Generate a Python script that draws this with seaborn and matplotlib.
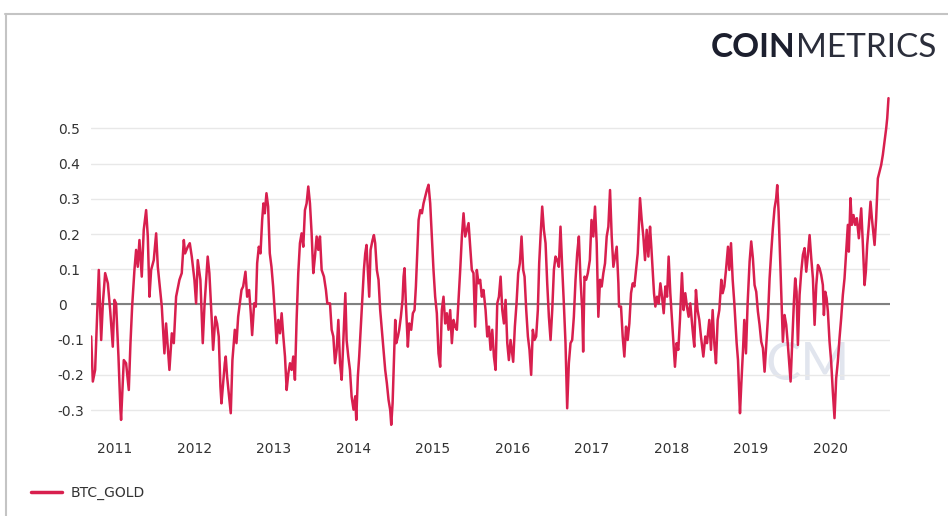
import pandas as pd
import matplotlib
matplotlib.use("Agg")
import matplotlib.pyplot as plt
import seaborn as sns
from matplotlib.lines import Line2D

# sample times (decimal years) and BTC / gold correlation
year_frac = [
    2010.702, 2010.723, 2010.752, 2010.798, 2010.828, 2010.849, 2010.878, 2010.912, 2010.941, 2010.974,
    2010.995, 2011.016, 2011.046, 2011.071, 2011.079, 2011.113, 2011.142, 2011.176, 2011.197, 2011.218,
    2011.247, 2011.268, 2011.289, 2011.310, 2011.339, 2011.364, 2011.394, 2011.415, 2011.436, 2011.457,
    2011.490, 2011.520, 2011.541, 2011.574, 2011.591, 2011.624, 2011.645, 2011.687, 2011.717, 2011.742,
    2011.771, 2011.813, 2011.842, 2011.868, 2011.884, 2011.918, 2011.943, 2011.968, 2012.002, 2012.023,
    2012.044, 2012.077, 2012.107, 2012.128, 2012.169, 2012.190, 2012.220, 2012.237, 2012.266, 2012.287,
    2012.308, 2012.329,
    2012.342, 2012.363, 2012.384, 2012.396, 2012.413, 2012.438, 2012.459, 2012.480, 2012.510, 2012.531,
    2012.552, 2012.573, 2012.594, 2012.615, 2012.644, 2012.665, 2012.690, 2012.711, 2012.728, 2012.753,
    2012.774, 2012.791, 2012.812, 2012.833, 2012.854, 2012.870, 2012.887, 2012.908, 2012.929, 2012.950,
    2012.971, 2012.992, 2013.017, 2013.034, 2013.055, 2013.076, 2013.097, 2013.118, 2013.139, 2013.160,
    2013.181, 2013.202, 2013.223, 2013.243, 2013.264, 2013.285, 2013.306, 2013.327, 2013.348, 2013.369,
    2013.390, 2013.411, 2013.432, 2013.453, 2013.474, 2013.495, 2013.516, 2013.537, 2013.558, 2013.579,
    2013.600, 2013.629, 2013.654, 2013.671, 2013.705, 2013.726, 2013.747, 2013.768, 2013.789, 2013.810,
    2013.831, 2013.852, 2013.872, 2013.898, 2013.914, 2013.935, 2013.956, 2013.977,
    2014.002, 2014.023, 2014.036, 2014.056, 2014.073, 2014.098, 2014.115, 2014.132, 2014.149, 2014.165,
    2014.182, 2014.199, 2014.216, 2014.241, 2014.258, 2014.274, 2014.295, 2014.316, 2014.337, 2014.358,
    2014.379, 2014.400, 2014.421, 2014.442, 2014.463, 2014.476, 2014.493, 2014.509, 2014.526, 2014.539,
    2014.560, 2014.576, 2014.597, 2014.618, 2014.631, 2014.643, 2014.660, 2014.685, 2014.702, 2014.727,
    2014.748, 2014.769, 2014.786, 2014.803, 2014.820, 2014.841, 2014.862, 2014.882, 2014.903, 2014.924,
    2014.945, 2014.966, 2014.987, 2015.008, 2015.029, 2015.050, 2015.071, 2015.092, 2015.113, 2015.134,
    2015.155, 2015.176, 2015.197, 2015.218, 2015.239, 2015.260, 2015.281, 2015.302, 2015.323, 2015.344,
    2015.365, 2015.386, 2015.407, 2015.428, 2015.449, 2015.470, 2015.490, 2015.511, 2015.532, 2015.553,
    2015.574, 2015.595, 2015.616, 2015.637,
    2015.663, 2015.684, 2015.705, 2015.726, 2015.747, 2015.768, 2015.789, 2015.810, 2015.831, 2015.852,
    2015.873, 2015.894, 2015.915, 2015.936, 2015.956, 2015.977, 2016.011, 2016.032, 2016.053, 2016.074,
    2016.095, 2016.116, 2016.137, 2016.154, 2016.175, 2016.196, 2016.216, 2016.237, 2016.258, 2016.279,
    2016.300, 2016.321, 2016.338, 2016.355, 2016.376, 2016.397, 2016.418, 2016.439, 2016.460, 2016.481,
    2016.502, 2016.523, 2016.543, 2016.564, 2016.585, 2016.606, 2016.627, 2016.648, 2016.669, 2016.690,
    2016.711, 2016.732, 2016.753, 2016.774, 2016.795, 2016.816, 2016.837, 2016.858, 2016.879, 2016.891,
    2016.908, 2016.929, 2016.950, 2016.975, 2016.996, 2017.017, 2017.038, 2017.059, 2017.080, 2017.101,
    2017.122, 2017.143, 2017.164, 2017.185, 2017.206, 2017.227, 2017.248, 2017.269, 2017.290, 2017.311,
    2017.332, 2017.340,
    2017.365, 2017.386, 2017.407, 2017.428, 2017.449, 2017.470, 2017.491, 2017.512, 2017.533, 2017.554,
    2017.575, 2017.604, 2017.625, 2017.646, 2017.667, 2017.688, 2017.709, 2017.730, 2017.746, 2017.763,
    2017.780, 2017.797, 2017.818, 2017.839, 2017.860, 2017.881, 2017.902, 2017.923, 2017.944, 2017.964,
    2017.985, 2018.015, 2018.044, 2018.065, 2018.086, 2018.107, 2018.132, 2018.153, 2018.174, 2018.195,
    2018.216, 2018.237, 2018.266, 2018.287, 2018.308, 2018.329, 2018.350, 2018.371, 2018.401, 2018.426,
    2018.447, 2018.476, 2018.497, 2018.518, 2018.539, 2018.560, 2018.581, 2018.602, 2018.627, 2018.644,
    2018.665, 2018.686, 2018.711, 2018.728, 2018.749, 2018.770, 2018.791, 2018.820, 2018.837, 2018.862,
    2018.879, 2018.900, 2018.916, 2018.937, 2018.958,
    2018.983, 2019.004, 2019.025, 2019.046, 2019.067, 2019.088, 2019.109, 2019.130, 2019.151, 2019.172,
    2019.193, 2019.214, 2019.235, 2019.256, 2019.276, 2019.297, 2019.318, 2019.331, 2019.348, 2019.365,
    2019.381, 2019.402, 2019.423, 2019.444, 2019.465, 2019.486, 2019.499, 2019.520, 2019.541, 2019.557,
    2019.574, 2019.591, 2019.612, 2019.633, 2019.654, 2019.675, 2019.696, 2019.717, 2019.738, 2019.759,
    2019.780, 2019.801, 2019.822, 2019.843, 2019.863, 2019.884, 2019.905, 2019.918, 2019.935, 2019.952,
    2019.968, 2019.989, 2020.010, 2020.031, 2020.052, 2020.073, 2020.094, 2020.115, 2020.136, 2020.157,
    2020.178, 2020.199, 2020.220, 2020.232, 2020.253, 2020.270, 2020.291, 2020.312, 2020.333, 2020.358,
    2020.388, 2020.409, 2020.430, 2020.446, 2020.463, 2020.484, 2020.505, 2020.522, 2020.539, 2020.556,
    2020.576, 2020.597, 2020.618, 2020.639, 2020.660, 2020.681, 2020.702, 2020.715, 2020.731,
]
btc_gold = [
    -0.091, -0.219, -0.186, 0.098, -0.101, 0.003, 0.089, 0.060, -0.016, -0.120,
    0.013, 0.003, -0.148, -0.300, -0.328, -0.158, -0.167, -0.243, -0.110, -0.006,
    0.098, 0.155, 0.107, 0.183, 0.079, 0.212, 0.268, 0.193, 0.022, 0.098,
    0.126, 0.202, 0.107, 0.032, -0.006, -0.139, -0.054, -0.186, -0.082, -0.110,
    0.022, 0.070, 0.089, 0.183, 0.145, 0.164, 0.174, 0.136, 0.070, 0.003,
    0.126, 0.070, -0.110, -0.006, 0.136, 0.089, -0.044, -0.129, -0.035, -0.054,
    -0.091, -0.233,
    -0.281, -0.224, -0.167, -0.148, -0.205, -0.262, -0.309, -0.158, -0.072, -0.110,
    -0.035, 0.003, 0.041, 0.051, 0.093, 0.022, 0.041, -0.025, -0.087, 0.003,
    -0.006, 0.117, 0.164, 0.145, 0.240, 0.287, 0.259, 0.316, 0.278, 0.145,
    0.107, 0.051, -0.044, -0.110, -0.044, -0.082, -0.025, -0.091, -0.148, -0.243,
    -0.196, -0.167, -0.186, -0.148, -0.214, -0.044, 0.089, 0.174, 0.202, 0.164,
    0.268, 0.287, 0.335, 0.287, 0.202, 0.089, 0.136, 0.193, 0.155, 0.193,
    0.098, 0.079, 0.041, 0.003, 0.003, -0.072, -0.091, -0.167, -0.129, -0.044,
    -0.167, -0.214, -0.110, 0.032, -0.101, -0.148, -0.186, -0.262,
    -0.299, -0.261, -0.328, -0.205, -0.148, -0.044, 0.022, 0.098, 0.145, 0.169,
    0.098, 0.022, 0.155, 0.183, 0.197, 0.174, 0.098, 0.070, -0.016, -0.072,
    -0.129, -0.186, -0.224, -0.271, -0.300, -0.342, -0.281, -0.167, -0.044, -0.110,
    -0.091, -0.072, -0.035, 0.013, 0.079, 0.103, 0.003, -0.120, -0.054, -0.072,
    -0.025, -0.016, 0.051, 0.145, 0.240, 0.268, 0.259, 0.287, 0.306, 0.325,
    0.340, 0.287, 0.193, 0.098, 0.022, -0.025, -0.139, -0.177, -0.016, 0.022,
    -0.054, -0.025, -0.072, -0.016, -0.110, -0.044, -0.063, -0.072, 0.013, 0.098,
    0.193, 0.259, 0.193, 0.212, 0.231, 0.164, 0.098, 0.089, -0.063, 0.098,
    0.060, 0.070, 0.022, 0.041,
    -0.016, -0.091, -0.063, -0.129, -0.072, -0.148, -0.186, 0.003, 0.022, 0.079,
    -0.016, -0.054, 0.013, -0.110, -0.158, -0.101, -0.163, -0.063, 0.003, 0.089,
    0.117, 0.193, 0.098, 0.079, -0.016, -0.091, -0.129, -0.200, -0.072, -0.101,
    -0.091, -0.016, 0.117, 0.193, 0.278, 0.212, 0.174, 0.060, -0.035, -0.101,
    -0.016, 0.098, 0.136, 0.126, 0.107, 0.221, 0.107, 0.003, -0.110, -0.295,
    -0.167, -0.110, -0.101, -0.035, 0.070, 0.145, 0.193, 0.070, -0.016, -0.134,
    0.079, 0.070, 0.089, 0.126, 0.240, 0.193, 0.278, 0.174, -0.035, 0.070,
    0.051, 0.089, 0.117, 0.193, 0.221, 0.325, 0.193, 0.107, 0.136, 0.164,
    0.060, -0.006,
    -0.006, -0.091, -0.148, -0.063, -0.101, -0.054, 0.032, 0.060, 0.051, 0.098,
    0.145, 0.302, 0.240, 0.193, 0.126, 0.212, 0.136, 0.221, 0.164, 0.098,
    0.032, -0.006, 0.022, 0.003, 0.060, 0.022, -0.025, 0.051, 0.022, 0.136,
    0.032, -0.072, -0.177, -0.110, -0.129, -0.044, 0.089, -0.016, 0.032, -0.006,
    -0.035, 0.003, -0.072, -0.120, 0.041, -0.016, -0.044, -0.091, -0.148, -0.091,
    -0.110, -0.044, -0.129, -0.016, -0.110, -0.167, -0.044, -0.016, 0.070, 0.032,
    0.051, 0.098, 0.164, 0.098, 0.174, 0.070, 0.003, -0.110, -0.158, -0.309,
    -0.224, -0.129, -0.044, -0.139, 0.003,
    0.122, 0.179, 0.131, 0.055, 0.036, -0.020, -0.058, -0.106, -0.124, -0.191,
    -0.115, -0.039, 0.074, 0.150, 0.216, 0.273, 0.302, 0.339, 0.264, 0.150,
    0.036, -0.106, -0.030, -0.058, -0.115, -0.181, -0.219, -0.106, 0.008, 0.074,
    0.036, -0.115, 0.027, 0.093, 0.141, 0.160, 0.093, 0.141, 0.197, 0.131,
    0.074, -0.058, 0.055, 0.112, 0.103, 0.084, 0.055, -0.030, 0.036, 0.018,
    -0.020, -0.106, -0.162, -0.248, -0.323, -0.210, -0.162, -0.096, -0.039, 0.027,
    0.074, 0.150, 0.226, 0.150, 0.302, 0.226, 0.254, 0.226, 0.245, 0.188,
    0.273, 0.169, 0.055, 0.093, 0.169, 0.226, 0.292, 0.245, 0.207, 0.169,
    0.245, 0.358, 0.377, 0.396, 0.425, 0.463, 0.500, 0.529, 0.586,
]
year_ticks = list(range(2011, 2021))
y_ticks = [-0.3, -0.2, -0.1, 0, 0.1, 0.2, 0.3, 0.4, 0.5]
y_labels = ["-0.3", "-0.2", "-0.1", "0", "0.1", "0.2", "0.3", "0.4", "0.5"]

RED = "#d81f4e"


def to_date(y):
    yr = int(y)
    return pd.Timestamp(yr, 1, 1) + pd.Timedelta(days=(y - yr) * 365.25)


df = pd.DataFrame({"date": [to_date(y) for y in year_frac], "BTC_GOLD": btc_gold})

sns.set_theme(style="white")
plt.rcParams["font.family"] = ["DejaVu Sans"]

fig = plt.figure(figsize=(9.48, 5.16), dpi=100)
ax = fig.add_axes([91 / 948, 1 - 428 / 516, (890 - 91) / 948, (428 - 95) / 516])
ax.patch.set_alpha(0)

# faint watermark behind the series
ax.text(808 / 948, 1 - 365 / 516, "CM", transform=fig.transFigure, ha="center", va="center",
        fontsize=38, color="#e1e5ee", family=["Lato", "DejaVu Sans"], zorder=0)

sns.lineplot(data=df, x="date", y="BTC_GOLD", ax=ax, color=RED, lw=1.8, zorder=3)
ax.axhline(0, color="#808080", lw=1.5, zorder=2)

ax.set_xlim(to_date(2010.70), to_date(2020.75))
ax.set_ylim(-0.351, 0.595)
ax.set_yticks(y_ticks)
ax.set_yticklabels(y_labels)
ax.set_xticks([pd.Timestamp(y, 1, 1) for y in year_ticks])
ax.set_xticklabels([str(y) for y in year_ticks])
ax.grid(axis="y", color="#e8e8e8", lw=1)
ax.grid(axis="x", visible=False)
for s in ax.spines.values():
    s.set_visible(False)
ax.set_xlabel("")
ax.set_ylabel("")
ax.tick_params(axis="y", length=0, pad=24, labelsize=10, labelcolor="#333333")
ax.tick_params(axis="x", length=0, pad=10, labelsize=10, labelcolor="#333333")
for lab in ax.get_yticklabels():
    lab.set_horizontalalignment("left")

# legend under the plot
fig.legend(handles=[Line2D([0], [0], color=RED, lw=2.5)], labels=["BTC_GOLD"],
           loc="center left", bbox_to_anchor=(18 / 948, 1 - 493 / 516), frameon=False,
           handlelength=2.3, handletextpad=0.6, fontsize=10, labelcolor="#333333")

# card frame
fig.add_artist(Line2D([5 / 948, 1], [1 - 14 / 516, 1 - 14 / 516], color="#c4c4c4", lw=1.5,
                      transform=fig.transFigure))
fig.add_artist(Line2D([6 / 948, 6 / 948], [0, 1 - 14 / 516], color="#c4c4c4", lw=1.5,
                      transform=fig.transFigure))

# logo
fig.text(795 / 948, 1 - 48 / 516, "COIN", ha="right", va="center", fontsize=24,
         fontweight="bold", color="#1c1f2e", family=["Lato", "DejaVu Sans"])
fig.text(796 / 948, 1 - 48 / 516, "METRICS", ha="left", va="center", fontsize=24,
         fontweight="normal", color="#2b2e3b", family=["Lato", "DejaVu Sans"])

fig.savefig("out.png", dpi=100)
